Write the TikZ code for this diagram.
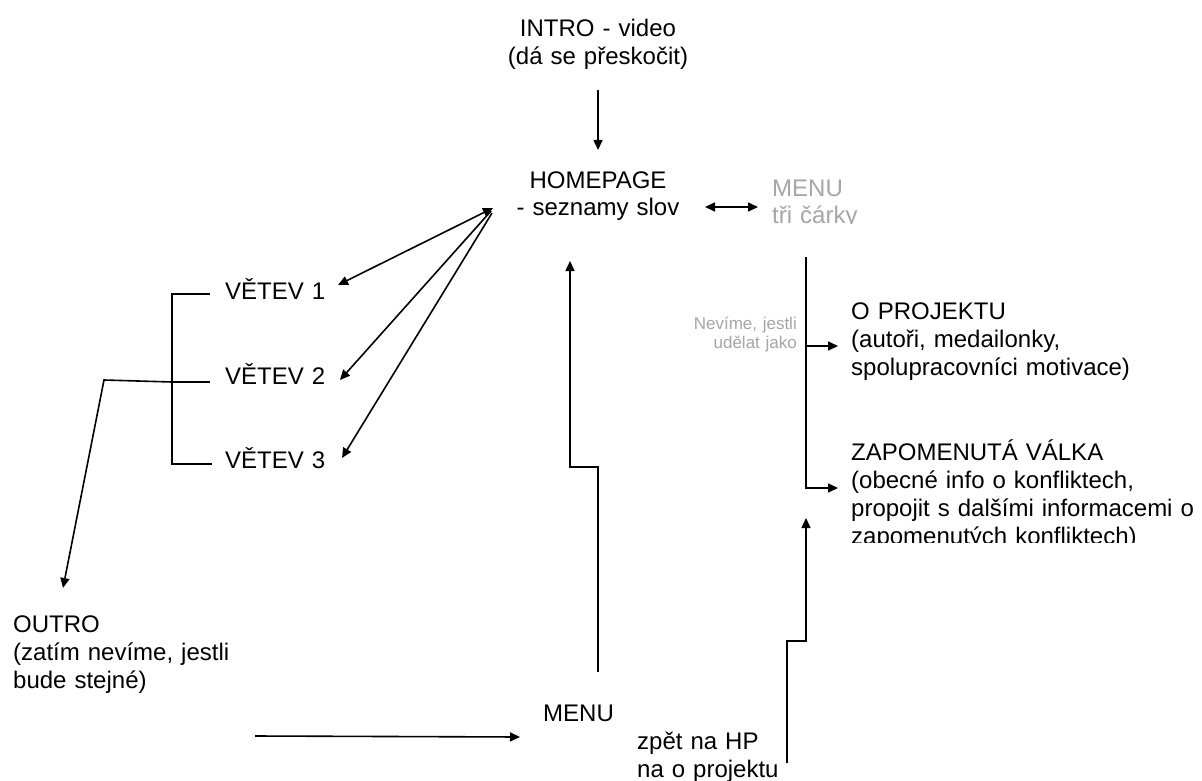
\documentclass[tikz,border=0pt]{standalone}
\usepackage{fontspec}
\setmainfont{Liberation Sans}
\usetikzlibrary{arrows.meta,calc}
\definecolor{menugray}{RGB}{166,166,166}
\tikzset{
  big/.style={font=\fontsize{24}{28}\selectfont, inner sep=0pt},
  ctext/.style={big, text width=240pt, align=center, anchor=base},
  ltext/.style={big, text width=380pt, align=left, anchor=base west},
  gtext/.style={font=\fontsize{17}{19}\selectfont, inner sep=0pt, text=menugray},
  conn/.style={line width=1.6pt, draw=black},
  arr/.style={conn, -{Triangle[length=10pt,width=9pt]}},
  dbl/.style={conn, {Triangle[length=10pt,width=9pt]}-{Triangle[length=10pt,width=9pt]}},
}
\begin{document}
\begin{tikzpicture}[x=1pt,y=-1pt]
\useasboundingbox[fill=white] (0,0) rectangle (1202,781);

% nodes
\node[ctext] (intro) at (598,37) {INTRO - video\\(dá se přeskočit)};
\node[ctext] (home) at (598,188) {HOMEPAGE\\- seznamy slov};
\begin{scope}
  \clip (700,150) rectangle (900,223.5);
  \node[big, text=menugray, text width=150pt, align=left, anchor=base west] (menuR) at (772,196) {MENU\\tři čárky};
\end{scope}
\node[ltext] (v1) at (225,299) {VĚTEV 1};
\node[ltext] (v2) at (225,384) {VĚTEV 2};
\node[ltext] (v3) at (225,468) {VĚTEV 3};
\node[ltext] (oproj) at (851,319) {O PROJEKTU\\(autoři, medailonky,\\spolupracovníci motivace)};
\begin{scope}
  \clip (840,420) rectangle (1202,542);
  \node[ltext] (zap) at (851,460) {ZAPOMENUTÁ VÁLKA\\(obecné info o konfliktech,\\propojit s dalšími informacemi o\\zapomenutých konfliktech)};
\end{scope}
\node[gtext, text width=140pt, align=right, anchor=base east] (nev) at (797,329) {Nevíme, jestli\\udělat jako};
\node[ltext] (outro) at (13,632) {OUTRO\\(zatím nevíme, jestli\\bude stejné)};
\node[ltext] (menuB) at (543,721) {MENU};
\node[ltext] (zpet) at (637,749) {zpět na HP\\na o projektu};

% intro -> homepage
\draw[arr] ($(intro.base)+(0,53)$) -- ($(home.base)+(0,-38)$);
% homepage <-> menu
\draw[dbl] ($(home.base)+(107,19)$) -- ($(menuR.base west)+(-14,11)$);
% menu branches
\coordinate (rtop) at ($(menuR.base west)+(34,61)$);
\coordinate (otip) at ($(oproj.base west)+(-13,27)$);
\coordinate (ztip) at ($(zap.base west)+(-13,28)$);
\draw[arr] (rtop) |- (ztip);
\draw[arr] (rtop |- otip) -- (otip);
% homepage -> branches
\coordinate (hub) at ($(home.base)+(-105,20)$);
\draw[dbl] ($(v1.base west)+(113,-14)$) -- (hub);
\draw[arr] ($(hub)+(-2,3)$) -- ($(v2.base west)+(115,-4)$);
\draw[arr] ($(hub)+(-1,5)$) -- ($(v3.base west)+(117,-10)$);
% bracket
\coordinate (b1) at ($(v1.base west)+(-15,-5)$);
\coordinate (b2) at ($(v2.base west)+(-15,-2)$);
\coordinate (b3) at ($(v3.base west)+(-13,-4)$);
\draw[conn] (b1) -- ++(-38,0) |- (b3);
\coordinate (bj) at ($(b2)+(-38,0)$);
\draw[conn] (b2) -- (bj);
\draw[arr] (bj) -- ++(-68,-2) -- ($(outro.base west)+(50,-44)$);
% outro -> menu
\draw[arr] ($(outro.base west)+(242,104)$) -- ($(menuB.base west)+(-23,16)$);
% menu -> homepage
\draw[arr] ($(menuB.base west)+(55,-49)$) -- ++(0,-205) -| ($(home.base)+(-28,73)$);
% zpet -> zapomenuta
\draw[arr] ($(zpet.base west)+(150,14)$) -- ++(0,-122) -| ($(zap.base west)+(-45,58)$);
\end{tikzpicture}
\end{document}
